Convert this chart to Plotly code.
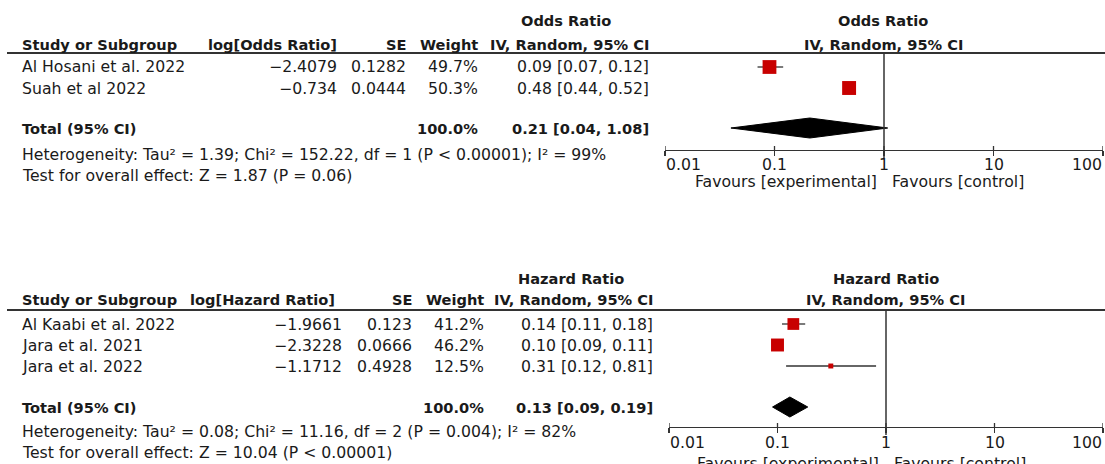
import math
import plotly.graph_objects as go

# ---------------- data ----------------
or_studies = ["Al Hosani et al. 2022", "Suah et al 2022"]
or_log = [-2.4079, -0.734]
or_se = [0.1282, 0.0444]
or_weight = [49.7, 50.3]
or_est = [0.09, 0.48]
or_lo = [0.07, 0.44]
or_hi = [0.12, 0.52]
or_total = [0.21, 0.04, 1.08]
or_het = ["1.39", "152.22", "1", "< 0.00001", "99"]
or_test = ["1.87", "= 0.06"]

hr_studies = ["Al Kaabi et al. 2022", "Jara et al. 2021", "Jara et al. 2022"]
hr_log = [-1.9661, -2.3228, -1.1712]
hr_se = [0.123, 0.0666, 0.4928]
hr_weight = [41.2, 46.2, 12.5]
hr_est = [0.14, 0.10, 0.31]
hr_lo = [0.11, 0.09, 0.12]
hr_hi = [0.18, 0.11, 0.81]
hr_total = [0.13, 0.09, 0.19]
hr_het = ["0.08", "11.16", "2", "= 0.004", "82"]
hr_test = ["10.04", "< 0.00001"]

tick_vals = [0.01, 0.1, 1, 10, 100]
tick_text = ["0.01", "0.1", "1", "10", "100"]

# ---------------- layout constants ----------------
W, H = 1105, 464
FONT = "DejaVu Sans"
FS = 15.7
FSB = 14.6
TXT = "#1a1a1a"
LINE = "#333333"
RED = "#C80000"


def px_x(x):
    return x / W


def px_y(y):
    return 1 - y / H


def minus(v):
    return str(v).replace("-", "\u2212")


fig = go.Figure()
annotations = []
shapes = []


def ann(x, y, text, anchor="left", bold=False, xref="paper", xshift=0):
    size = FS
    if bold:
        text = "<b>" + text + "</b>"
        size = FSB
    annotations.append(dict(
        x=px_x(x) if xref == "paper" else x, y=px_y(y), xref=xref, yref="paper",
        text=text, showarrow=False, xanchor=anchor, yanchor="middle",
        xshift=xshift, borderpad=0, font=dict(family=FONT, size=size, color=TXT)))


panels = [
    dict(kind="Odds Ratio", label="log[Odds Ratio]", studies=or_studies, logv=or_log,
         se=or_se, w=or_weight, est=or_est, lo=or_lo, hi=or_hi, total=or_total,
         het=or_het, test=or_test, xa="x", xaxis="xaxis",
         y_h1=21, y_h2=44, y_line=53, rows=[67, 88], y_total=128, y_het=154,
         y_test=175, y_axis=150, y_vend=158, y_tick=164, y_fav=182,
         c_log=338, c_log_h=338, c_se=407, c_w=479, c_ci=650, c_or=566, c_plot=883,
         dom=(665, 1103)),
    dict(kind="Hazard Ratio", label="log[Hazard Ratio]", studies=hr_studies, logv=hr_log,
         se=hr_se, w=hr_weight, est=hr_est, lo=hr_lo, hi=hr_hi, total=hr_total,
         het=hr_het, test=hr_test, xa="x2", xaxis="xaxis2",
         y_h1=278, y_h2=299, y_line=310, rows=[324, 345, 366], y_total=407, y_het=431,
         y_test=452, y_axis=427, y_vend=435, y_tick=442, y_fav=463,
         c_log=343, c_log_h=336, c_se=413, c_w=485, c_ci=654, c_or=571, c_plot=885.5,
         dom=(669, 1103)),
]

axis_layout = {}
for p in panels:
    xa = p["xa"]
    # headers
    ann(p["c_or"], p["y_h1"], p["kind"], "center", True)
    ann(p["c_plot"], p["y_h1"], p["kind"], "center", True)
    ann(21, p["y_h2"], "Study or Subgroup", "left", True)
    ann(p["c_log_h"], p["y_h2"], p["label"], "right", True)
    ann(p["c_se"], p["y_h2"], "SE", "right", True)
    ann(p["c_w"], p["y_h2"], "Weight", "right", True)
    ann(p["c_ci"], p["y_h2"], "IV, Random, 95% CI", "right", True)
    ann(p["c_plot"], p["y_h2"], "IV, Random, 95% CI", "center", True)
    shapes.append(dict(type="line", xref="paper", yref="paper", x0=px_x(7), x1=1,
                       y0=px_y(p["y_line"]), y1=px_y(p["y_line"]),
                       line=dict(color=LINE, width=2)))
    # study rows
    for i, s in enumerate(p["studies"]):
        y = p["rows"][i]
        ann(21, y, s, "left")
        ann(p["c_log"], y, minus(p["logv"][i]), "right")
        ann(p["c_se"], y, str(p["se"][i]), "right")
        ann(p["c_w"], y, f"{p['w'][i]:.1f}%", "right")
        ann(p["c_ci"], y, f"{p['est'][i]:.2f} [{p['lo'][i]:.2f}, {p['hi'][i]:.2f}]", "right")
    # total
    t = p["total"]
    ann(21, p["y_total"], "Total (95% CI)", "left", True)
    ann(p["c_w"], p["y_total"], "100.0%", "right", True)
    ann(p["c_ci"], p["y_total"], f"{t[0]:.2f} [{t[1]:.2f}, {t[2]:.2f}]", "right", True)
    h = p["het"]
    ann(21, p["y_het"],
        f"Heterogeneity: Tau\u00b2 = {h[0]}; Chi\u00b2 = {h[1]}, df = {h[2]} (P {h[3]}); I\u00b2 = {h[4]}%",
        "left")
    ann(21, p["y_test"], f"Test for overall effect: Z = {p['test'][0]} (P {p['test'][1]})", "left")
    # favours (annotation x on a log axis is given in log10 units)
    ann(math.log10(1), p["y_fav"], "Favours [experimental]", "right", xref=xa, xshift=-6)
    ann(math.log10(1), p["y_fav"], "Favours [control]", "left", xref=xa, xshift=7)
    # tick labels: end labels kept inside the axis span
    for k, (tv, tt) in enumerate(zip(tick_vals, tick_text)):
        anchor = "left" if k == 0 else ("right" if k == len(tick_vals) - 1 else "center")
        ann(math.log10(tv), p["y_tick"], tt, anchor, xref=xa)

    # CI whiskers (under the squares)
    wx, wy = [], []
    for lo, hi, y in zip(p["lo"], p["hi"], p["rows"]):
        wx += [lo, hi, None]
        wy += [y, y, None]
    fig.add_trace(go.Scatter(x=wx, y=wy, xaxis=xa, yaxis="y", mode="lines",
                             line=dict(color=LINE, width=1.3),
                             showlegend=False, hoverinfo="skip"))
    # study squares
    fig.add_trace(go.Scatter(
        x=p["est"], y=p["rows"], xaxis=xa, yaxis="y", mode="markers", opacity=1,
        marker=dict(symbol="square", color=RED, opacity=1,
                    size=[2 + 0.237 * w for w in p["w"]], line=dict(width=0)),
        showlegend=False, hoverinfo="skip"))
    # diamond
    yt = p["y_total"]
    hh = 10
    fig.add_trace(go.Scatter(
        x=[t[1], t[0], t[2], t[0], t[1]], y=[yt, yt - hh, yt, yt + hh, yt],
        xaxis=xa, yaxis="y", mode="lines", fill="toself", fillcolor="black",
        line=dict(color="black", width=1), showlegend=False, hoverinfo="skip"))
    # line of no effect
    shapes.append(dict(type="line", xref=xa, yref="paper", x0=1, x1=1,
                       y0=px_y(p["y_line"]), y1=px_y(p["y_vend"]),
                       line=dict(color=LINE, width=1.5)))
    # upward tick segments
    for tv in tick_vals:
        shapes.append(dict(type="line", xref=xa, yref="paper", x0=tv, x1=tv,
                           y0=px_y(p["y_axis"]), y1=px_y(p["y_axis"] - 4),
                           line=dict(color=LINE, width=1.3)))
    d0, d1 = p["dom"]
    axis_layout[p["xaxis"]] = dict(
        type="log", range=[-2, 2], domain=[px_x(d0), px_x(d1)], anchor="free",
        position=px_y(p["y_axis"]), showgrid=False, zeroline=False, automargin=False,
        showline=True, linecolor=LINE, linewidth=1.3,
        ticks="outside", ticklen=5, tickwidth=1.3, tickcolor=LINE,
        tickvals=tick_vals, showticklabels=False, fixedrange=True)

fig.update_layout(
    template="none",
    width=W, height=H, margin=dict(l=0, r=0, t=0, b=0, pad=0, autoexpand=False),
    paper_bgcolor="white", plot_bgcolor="rgba(0,0,0,0)",
    yaxis=dict(range=[H, 0], domain=[0, 1], visible=False, fixedrange=True,
               automargin=False),
    annotations=annotations, shapes=shapes, showlegend=False, hovermode=False,
    **axis_layout)

# remove the default page margin so the figure sits at the window's top-left corner
fig.write_html("out.html",
               config={"displayModeBar": False, "staticPlot": True},
               post_script="document.body.style.margin='0px';document.body.style.overflow='hidden';")
